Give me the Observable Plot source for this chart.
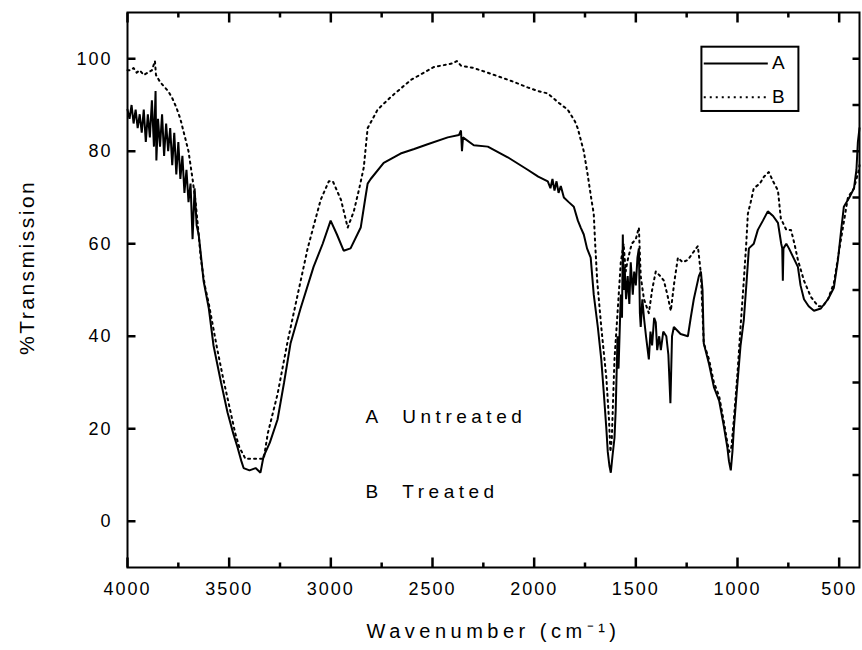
<!DOCTYPE html>
<html>
<head>
<meta charset="utf-8">
<script src="https://cdn.jsdelivr.net/npm/d3@7"></script>
<script src="https://cdn.jsdelivr.net/npm/@observablehq/plot@0.6"></script>
<style>
  html, body { margin: 0; padding: 0; background: #fff; }
  #chart svg { display: block; }
  #chart text { fill: #000; }
</style>
</head>
<body>
<div id="chart"></div>
<script>
// ---- Data ----
const waveA = [4000,3990,3980,3970,3960,3950,3940,3930,3920,3910,3900,3890,3880,3870,3862,3858,3850,3840,3830,3820,3810,3800,3790,3780,3770,3760,3750,3740,3730,3720,3710,3700,3690,3680,3670,3660,3650,3640,3626,3600,3577,3540,3508,3480,3459,3440,3429,3400,3370,3346,3331,3300,3262,3230,3198,3149,3085,3040,3001,2970,2937,2903,2853,2830,2819,2804,2740,2657,2590,2524,2425,2370,2360,2355,2350,2297,2228,2130,2032,1980,1933,1920,1910,1900,1890,1880,1869,1854,1830,1805,1785,1771,1756,1740,1722,1707,1687,1670,1658,1645,1638,1630,1623,1615,1605,1599,1590,1585,1574,1568,1564,1560,1555,1548,1540,1532,1525,1515,1508,1500,1492,1485,1480,1476,1468,1460,1450,1436,1428,1420,1410,1402,1395,1385,1377,1365,1350,1340,1330,1322,1313,1280,1244,1230,1215,1190,1180,1172,1166,1140,1116,1090,1067,1050,1042,1033,1025,1018,1000,985,969,955,944,920,900,875,851,825,801,785,780,777,774,760,747,725,703,690,673,650,624,590,555,526,506,490,477,450,427,415,408,400];
const transA = [89,87,90,86,89,85,88,84,89,82,88,83,91,81,93,78,87,81,88,79,86,80,85,77,84,75,82,74,79,71,76,69,73,61,72,64,62,58,52,46,38,30,23.5,19,16,13,11.5,11,11.5,10.5,14,17,22,30,38.5,46,55,60,65,62,58.5,59,63.5,70,73,74,77.5,79.5,80.5,81.5,83,83.5,84.5,80,83,81.3,81,78.7,76,74.5,73.5,72,74,71.5,73.5,71,72.5,70,69,68,65,63.5,62,59,57,49,42,35,28,20,15,12,10.5,14,18,24,40,33,49,44,62,50,55,48,53,47,56,49,54,51,57,59,45,42,48,44,40,35,41,38,44,43,37,40,37,41,40,36,25.5,40,42,40.5,40,44,48,53,54,50,38.5,34,29,26,20.5,16,13,11,15,20,30,38,43.5,52,59,60,63,65,67,66,64.5,60,59,52,59,60,59,57,55,51,48,46.5,45.5,46,48,50.5,56.5,63,68,70,72,76,82,85];

const waveB = [4000,3985,3970,3955,3940,3920,3900,3880,3865,3860,3840,3820,3800,3780,3760,3740,3720,3700,3690,3680,3665,3650,3640,3620,3600,3560,3530,3500,3470,3450,3420,3380,3330,3310,3262,3212,3163,3114,3050,3010,2990,2950,2917,2887,2860,2838,2819,2770,2706,2607,2494,2400,2380,2360,2297,2230,2164,2100,2032,1980,1933,1880,1835,1800,1786,1756,1737,1720,1707,1700,1690,1670,1645,1632,1625,1618,1612,1605,1590,1574,1560,1550,1540,1520,1500,1485,1476,1460,1436,1420,1402,1380,1362,1345,1328,1310,1293,1270,1244,1220,1195,1180,1166,1140,1116,1090,1067,1050,1040,1030,1018,1000,985,969,957,949,935,920,890,870,846,825,801,787,760,737,720,703,673,639,604,580,555,526,491,457,427,403,400];
const transB = [97.5,97.5,98,97,97.5,96.5,97,97.5,99.5,96.5,95,94,93,91.5,89.5,87,83.5,80,77,74,69,62,57,51,47,37.5,31,25,19,16,13.5,13.5,13.5,19,27.5,39,49,59,69.5,73.5,73.5,69.5,63.5,67,72,76.5,85,89,91.7,95.4,98.2,99,99.5,98.5,98,97,96,95,93.8,93,92.5,90.5,89,86.5,85,80,75,70,66.5,60,52,42,31,22,15,18,26,35,45,56,60,54,56.5,60,61,63.5,53,48,45,50,54,53,52,49,45.5,52,57,56,56.5,58,59.5,53.5,38.5,35,30,27,21.5,17,15,16,22,32,42,52,60,66.5,69,72,73,74.5,75.5,73.5,71.5,65.5,63,63,60,56.5,52,48.5,46.5,46.5,48,51.5,61,70,72,76,77];

const xTickValues = [4000,3500,3000,2500,2000,1500,1000,500];
const xMinorTicks = [3750,3250,2750,2250,1750,1250,750];
const yTickValues = [0,20,40,60,80,100];
const yRightTicks = [0,10,20,30,40,50,60,70,80,90,100];
const seriesNames = ["A","B"];
const annotations = ["A\u00a0\u00a0Untreated","B\u00a0\u00a0Treated"];
const xTitle = "Wavenumber (cm\u207b\u00b9)";
const yTitle = "%Transmission";

// ---- Tables for the library ----
const dataA = waveA.map((w,i)=>({w, t: transA[i]}));
const dataB = waveB.map((w,i)=>({w, t: transB[i]}));

// ---- Layout ----
const W = 862, H = 650;
const mTop = 12, mRight = 3, mBottom = 83, mLeft = 127;
const innerW = W - mLeft - mRight, innerH = H - mTop - mBottom;
const xDom = [4000, 400], yDom = [-10, 110];
const pxX = (xDom[0] - xDom[1]) / innerW;   // chart units per pixel
const pxY = (yDom[1] - yDom[0]) / innerH;
// inward tick segments
const tickSegs = [
  ...xTickValues.map(v => ({x1: v, x2: v, y1: yDom[0], y2: yDom[0] + 10 * pxY})),
  ...xMinorTicks.map(v => ({x1: v, x2: v, y1: yDom[0], y2: yDom[0] + 5 * pxY})),
  ...xTickValues.map(v => ({x1: v, x2: v, y1: yDom[1], y2: yDom[1] - 10 * pxY})),
  ...xMinorTicks.map(v => ({x1: v, x2: v, y1: yDom[1], y2: yDom[1] - 5 * pxY})),
  ...yTickValues.map(v => ({x1: xDom[0], x2: xDom[0] - 8 * pxX, y1: v, y2: v})),
  ...yRightTicks.map(v => ({x1: xDom[1], x2: xDom[1] + 7 * pxX, y1: v, y2: v}))
];
// legend and annotation anchors (layout, in chart units)
const legendBox = {x1: 1175, x2: 698, y1: 88.6, y2: 102.5};
const legendRows = [{y: 99.0, dash: null}, {y: 91.7, dash: "2,4"}];
const legX1 = 1166, legX2 = 851, legTextX = 830;
const annoX = 2829, annoY = [22.5, 6.3];
const yTitlePos = 54.9;

const font = "'Liberation Sans', Arial, Helvetica, sans-serif";
const fmt = d => String(d);

const chart = Plot.plot({
  width: W, height: H,
  marginTop: mTop, marginRight: mRight, marginBottom: mBottom, marginLeft: mLeft,
  style: {fontFamily: font, background: "#fff", color: "#000", overflow: "visible"},
  x: {domain: xDom},
  y: {domain: yDom},
  marks: [
    Plot.line(dataA, {x: "w", y: "t", stroke: "#000", strokeWidth: 2, strokeLinejoin: "miter"}),
    Plot.line(dataB, {x: "w", y: "t", stroke: "#000", strokeWidth: 2, strokeDasharray: "2,4"}),
    Plot.frame({stroke: "#000", strokeWidth: 2}),
    Plot.link(tickSegs, {x1: "x1", x2: "x2", y1: "y1", y2: "y2", stroke: "#000", strokeWidth: 2.5}),
    Plot.axisX(xTickValues, {tickSize: 0, tickPadding: 15, label: null, fontSize: 18, tickFormat: fmt}),
    Plot.axisY(yTickValues, {tickSize: 0, tickPadding: 15, label: null, fontSize: 18, tickFormat: fmt}),
    // legend
    Plot.rect([legendBox], {x1: "x1", x2: "x2", y1: "y1", y2: "y2", fill: "#fff", stroke: "#000", strokeWidth: 2}),
    Plot.link(legendRows.filter(r => !r.dash), {x1: () => legX1, x2: () => legX2, y1: "y", y2: "y", stroke: "#000", strokeWidth: 2}),
    Plot.link(legendRows.filter(r => r.dash), {x1: () => legX1, x2: () => legX2, y1: "y", y2: "y", stroke: "#000", strokeWidth: 2, strokeDasharray: "2,4"}),
    Plot.text(seriesNames, {x: () => legTextX, y: (d,i) => legendRows[i].y, text: d => d, textAnchor: "start", fontSize: 19}),
    // annotations
    Plot.text(annotations, {x: () => annoX, y: (d,i) => annoY[i], text: d => d, textAnchor: "start", fontSize: 19, className: "anno"}),
    // axis titles
    Plot.text([xTitle], {frameAnchor: "bottom", dy: 70, text: d => d, fontSize: 20, textAnchor: "middle", className: "xt"}),
    Plot.text([yTitle], {y: () => yTitlePos, frameAnchor: "left", dx: -100, rotate: -90, textAnchor: "middle", text: d => d, fontSize: 21, className: "yt"})
  ]
});

document.getElementById("chart").appendChild(chart);
const svg = d3.select(chart);
svg.selectAll("g[aria-label='x-axis tick label'] text, g[aria-label='y-axis tick label'] text").style("letter-spacing", "2px");
svg.selectAll(".anno text").style("letter-spacing", "4.5px");
svg.selectAll(".xt text").style("letter-spacing", "4.5px");
svg.selectAll(".yt text").style("letter-spacing", "2.5px");
</script>
</body>
</html>
